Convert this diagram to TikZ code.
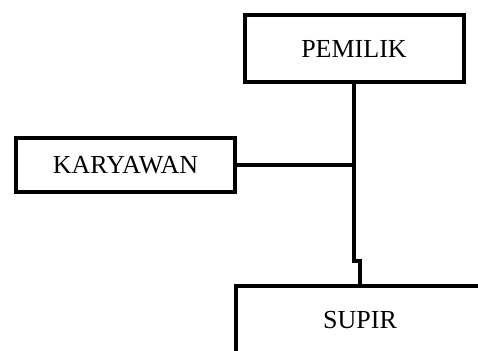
\documentclass[tikz,border=0pt]{standalone}
\usepackage{fontspec}
\setmainfont{Liberation Serif}
\usetikzlibrary{positioning}
\tikzset{kotak/.style={draw,line width=4pt,inner sep=0pt,minimum width=219pt,font=\fontsize{26}{30}\selectfont}}

\begin{document}
\begin{tikzpicture}[x=1pt,y=-1pt,line width=4pt]
		\clip (0,0) rectangle (478,350);
		\node[kotak,minimum height=67pt] (pemilik) at (354,48.5) {PEMILIK};
		\node[kotak,minimum height=54pt] (karyawan) at (125.5,165) {KARYAWAN};
		\node[kotak,minimum width=248pt,minimum height=68pt] (supir) at (360,320) {SUPIR};
		\coordinate (tekuk) at (pemilik.south |- 0,261);
		\draw (karyawan.east) -- (karyawan.east -| pemilik.south);
		\draw (pemilik.south) -- (tekuk) -| (supir.north);
	\end{tikzpicture}
\end{document}
